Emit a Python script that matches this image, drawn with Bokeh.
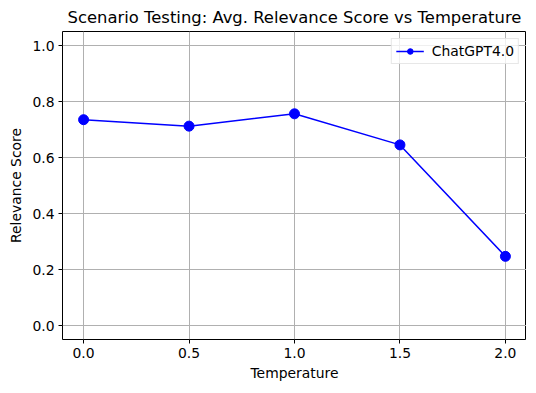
from bokeh.plotting import figure
from bokeh.models import Range1d, FixedTicker, Legend, LegendItem
from bokeh.embed import file_html
from bokeh.resources import INLINE

temperature = [0.0, 0.5, 1.0, 1.5, 2.0]
relevance = [0.735, 0.712, 0.756, 0.645, 0.247]
series_name = "ChatGPT4.0"
x_ticks = [0.0, 0.5, 1.0, 1.5, 2.0]
y_ticks = [0.0, 0.2, 0.4, 0.6, 0.8, 1.0]

FONT = "DejaVu Sans"

p = figure(
    output_backend="svg", toolbar_location=None,
    frame_width=464, frame_height=308,
    x_range=Range1d(-0.1, 2.1), y_range=Range1d(-0.05, 1.05),
    min_border_left=62, min_border_right=0, min_border_top=26, min_border_bottom=44,
    title="Scenario Testing: Avg. Relevance Score vs Temperature",
)
p.title.text_font = FONT
p.title.text_font_size = "16.4px"
p.title.text_font_style = "normal"
p.title.align = "center"
p.title.text_color = "#000000"

p.outline_line_color = "black"
p.outline_line_width = 1
p.outline_line_alpha = 1

for ax in (p.xaxis[0], p.yaxis[0]):
    ax.axis_line_color = None
    ax.major_tick_in = 0
    ax.major_tick_out = 4
    ax.minor_tick_line_color = None
    ax.major_tick_line_color = "black"
    ax.major_label_text_font = FONT
    ax.major_label_text_font_size = "13.9px"
    ax.major_label_text_color = "black"
    ax.axis_label_text_font = FONT
    ax.axis_label_text_font_size = "13.9px"
    ax.axis_label_text_font_style = "normal"
    ax.axis_label_text_color = "black"

p.xaxis[0].ticker = FixedTicker(ticks=x_ticks)
p.yaxis[0].ticker = FixedTicker(ticks=y_ticks)
p.xaxis[0].major_label_overrides = {t: f"{t:.1f}" for t in x_ticks}
p.yaxis[0].major_label_overrides = {t: f"{t:.1f}" for t in y_ticks}
p.xaxis.axis_label = "Temperature"
p.yaxis.axis_label = "Relevance Score"
p.xaxis[0].major_label_standoff = 4
p.yaxis[0].major_label_standoff = 4
p.xaxis[0].axis_label_standoff = 4
p.yaxis[0].axis_label_standoff = 5

p.grid.grid_line_color = "#b0b0b0"
p.grid.grid_line_width = 1

ln = p.line(temperature, relevance, line_color="blue", line_width=1.5)
sc = p.scatter(temperature, relevance, size=10, fill_color="blue", line_color="blue")

legend = Legend(items=[LegendItem(label=series_name, renderers=[ln, sc])],
                location="top_right")
legend.label_text_font = FONT
legend.label_text_font_size = "13.9px"
legend.label_text_color = "black"
legend.border_line_color = "#d0d0d0"
legend.border_line_width = 1
legend.background_fill_alpha = 0.8
legend.margin = 7
legend.padding = 4
legend.spacing = 0
legend.glyph_width = 28
legend.glyph_height = 14
legend.label_standoff = 8
legend.label_height = 14
p.add_layout(legend)

open("out.html", "w").write(file_html(p, INLINE))
